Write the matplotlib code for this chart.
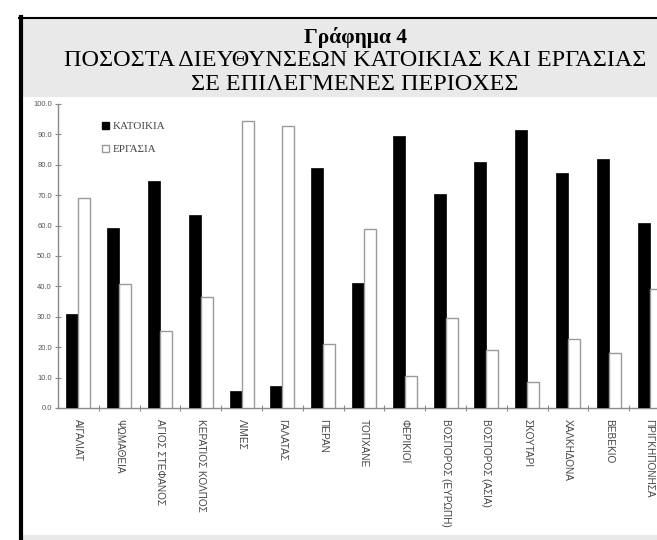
import matplotlib
matplotlib.use("Agg")
import matplotlib.pyplot as plt
from matplotlib.patches import Rectangle, Patch
import numpy as np

categories = ["ΑΙΓΑΛΙΑΤ", "ΨΩΜΑΘΕΙΑ", "ΑΓΙΟΣ ΣΤΕΦΑΝΟΣ", "ΚΕΡΑΤΙΟΣ ΚΟΛΠΟΣ", "ΛΙΜΕΣ",
              "ΓΑΛΑΤΑΣ", "ΠΕΡΑΝ", "ΤΟΠΧΑΝΕ", "ΦΕΡΙΚΙΟΪ", "ΒΟΣΠΟΡΟΣ (ΕΥΡΩΠΗ)",
              "ΒΟΣΠΟΡΟΣ (ΑΣΙΑ)", "ΣΚΟΥΤΑΡΙ", "ΧΑΛΚΗΔΟΝΑ", "ΒΕΒΕΚΙΟ", "ΠΡΙΓΚΗΠΟΝΗΣΑ"]
katoikia = [31.0, 59.3, 74.8, 63.5, 5.5, 7.2, 79.0, 41.0, 89.5, 70.5, 81.0, 91.5, 77.2, 82.0, 61.0]
ergasia = [69.0, 40.7, 25.2, 36.5, 94.5, 92.8, 21.0, 59.0, 10.5, 29.5, 19.0, 8.5, 22.8, 18.0, 39.0]
yticks = [0, 10, 20, 30, 40, 50, 60, 70, 80, 90, 100]
ytick_labels = ["0.0", "10.0", "20.0", "30.0", "40.0", "50.0", "60.0", "70.0", "80.0", "90.0", "100.0"]
series_names = ["ΚΑΤΟΙΚΙΑ", "ΕΡΓΑΣΙΑ"]
title_lines = ["Γράφημα 4", "ΠΟΣΟΣΤΑ ΔΙΕΥΘΥΝΣΕΩΝ ΚΑΤΟΙΚΙΑΣ ΚΑΙ ΕΡΓΑΣΙΑΣ", "ΣΕ ΕΠΙΛΕΓΜΕΝΕΣ ΠΕΡΙΟΧΕΣ"]

W, H = 657, 540
fig = plt.figure(figsize=(W / 100, H / 100), dpi=100)
fig.patch.set_facecolor("white")

def fx(px):
    return px / W

def fy(py):
    return 1 - py / H

# frame / panels
fig.patches.append(Rectangle((fx(20), fy(97)), 1, fy(18) - fy(97), transform=fig.transFigure,
                             facecolor="#e9e9e9", edgecolor="none", zorder=0))
fig.patches.append(Rectangle((fx(20), 0), 1, fy(535), transform=fig.transFigure,
                             facecolor="#e9e9e9", edgecolor="none", zorder=0))
fig.lines.append(plt.Line2D([fx(20.5), fx(20.5)], [0, fy(17)], transform=fig.transFigure,
                            color="black", lw=3, zorder=5))
fig.lines.append(plt.Line2D([fx(19), 1], [fy(17.5), fy(17.5)], transform=fig.transFigure,
                            color="black", lw=1.5, zorder=5))

serif = ["Liberation Serif", "DejaVu Serif"]
fig.text(fx(355), fy(38), title_lines[0], ha="center", va="center", fontsize=15.5,
         fontweight="bold", family=serif)
fig.text(fx(355), fy(61), title_lines[1], ha="center", va="center", fontsize=17.4, family=serif)
fig.text(fx(355), fy(85), title_lines[2], ha="center", va="center", fontsize=17.4, family=serif)

# axes
ax_left, ax_right, ax_top, ax_bottom = 58, 58 + 15 * 40.8, 104, 408
ax = fig.add_axes([fx(ax_left), fy(ax_bottom), (ax_right - ax_left) / W, (ax_bottom - ax_top) / H])
ax.set_facecolor("white")
x = np.arange(len(categories))
bw = 0.295
ax.bar(x - bw / 2, katoikia, width=bw, color="black", edgecolor="black", linewidth=0.5,
       label=series_names[0], zorder=3)
ax.bar(x + bw / 2, ergasia, width=bw, color="white", edgecolor="#9a9a9a", linewidth=1.0,
       label=series_names[1], zorder=3)
ax.set_xlim(-0.5, len(categories) - 0.5)
ax.set_ylim(0, 100)

for s in ["top", "right"]:
    ax.spines[s].set_visible(False)
for s in ["left", "bottom"]:
    ax.spines[s].set_color("#8a8a8a")
    ax.spines[s].set_linewidth(1.0)

ax.set_yticks(yticks)
ax.set_yticklabels(ytick_labels, fontsize=5.5, color="#555555", family=["Liberation Sans"])
ax.tick_params(axis="y", direction="inout", length=5, width=0.8, color="#8a8a8a", pad=2)

ax.set_xticks(x)
ax.set_xticklabels(categories, rotation=270, fontsize=7.2, color="#444444",
                   family=["Liberation Sans"], va="top", ha="center")
ax.tick_params(axis="x", which="major", length=0, pad=8)
ax.set_xticks(np.arange(len(categories)) + 0.5, minor=True)
ax.tick_params(axis="x", which="minor", direction="inout", length=4, width=0.8, color="#8a8a8a")

handles = [Patch(facecolor="black", edgecolor="black"),
           Patch(facecolor="white", edgecolor="#9a9a9a")]
leg = ax.legend(handles, series_names, loc="upper left", bbox_to_anchor=(0.055, 0.975),
                frameon=False, handlelength=0.7, handleheight=0.7,
                handletextpad=0.25, labelspacing=1.2, prop={"family": "Liberation Serif", "size": 8})
for t in leg.get_texts():
    t.set_color("#444444")

fig.savefig("out.png", dpi=100)
